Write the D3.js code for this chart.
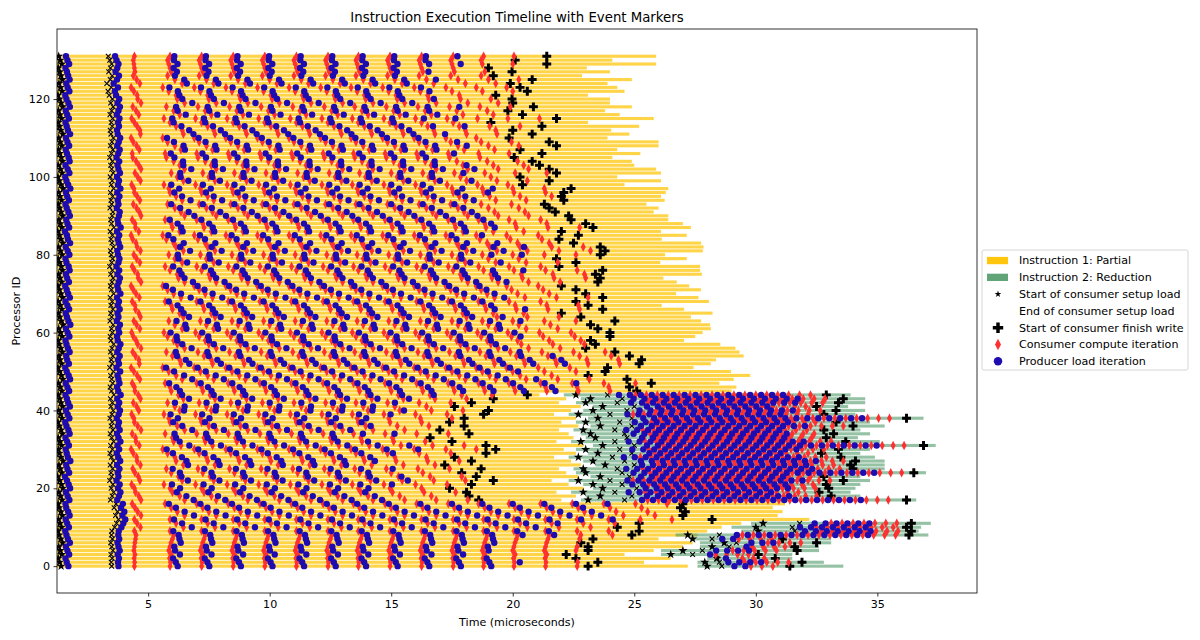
<!DOCTYPE html>
<html>
<head>
<meta charset="utf-8">
<script src="https://cdn.jsdelivr.net/npm/d3@7.9.0/dist/d3.min.js"></script>
<style>
  body { margin: 0; background: #fff; }
  svg { display: block; font-family: "DejaVu Sans", sans-serif; }
</style>
</head>
<body>
<svg id="chart" width="1200" height="640"></svg>
<script>
// ---- data (microseconds) ----
const processorIds = d3.range(132);
const xTicks = [5, 10, 15, 20, 25, 30, 35];
const yTicks = [0, 20, 40, 60, 80, 100, 120];

const inst1Begin = 1.25;

// Instruction 1 (Partial): end of the bar, per processor 0..131
const inst1End = [
  27.2, 25.4, 26.5, 24.6, 25.8, 27.0, 27.4, 26.0, 27.6, 28.0,
  28.6, 29.4, 32.2, 30.9, 31.1, 30.7, 31.2,
  22.0, 22.6, 21.8, 22.9, 22.3, 21.6, 22.7, 22.2, 21.9, 22.8,
  22.4, 21.7, 22.6, 22.1, 22.9, 21.8, 22.5, 22.3, 21.9, 22.7,
  22.0, 22.6, 21.7, 22.4, 22.8, 21.9, 22.2, 21.1,
  29.0, 29.2, 28.5,
  29.09, 29.77, 28.98, 27.44, 28.15, 28.36, 29.5, 29.33, 29.16, 28.54,
  27.05, 27.51, 27.81, 28.15, 28.12, 27.75, 27.33, 28.22, 27.05, 26.13,
  28.07, 27.64, 26.72, 27.74, 27.26, 26.75, 26.2, 27.78, 27.71, 27.71,
  26.07, 27.16, 26.27, 27.82, 27.85, 27.75, 26.13, 27.16, 26.1, 27.33,
  27.0,
  26.4, 26.4, 25.8, 26.0, 25.5, 26.25, 26.1, 26.3, 26.4, 24.6,
  26.1, 24.3, 26.1, 25.9, 25.0, 24.9, 24.1, 25.25, 24.3, 26.0,
  26.0, 23.9, 24.8, 24.05, 25.2, 23.1, 25.8, 24.4, 23.8, 24.9,
  24.0, 24.0, 23.1, 24.6, 24.3, 23.9, 24.9, 22.85, 24.0, 23.05,
  25.9, 24.1, 25.9
];

// start of consumer finish write (instruction 1)
const inst1Finish = [
  23.1, 23.5, 22.6, 22.2, 23.1, 23.1, 22.8, 23.3, 24.9, 25.2,
  24.3, 25.2, 28.2, 27.0, 27.1, 26.9, 27.0,
  18.6, 18.2, 18.1, 17.4, 18.3, 19.2, 18.5, 17.9, 18.7, 17.2,
  18.3, 17.6, 18.9, 19.3, 18.9, 17.5, 16.6, 18.2, 17.0, 18.0,
  17.4, 18.0, 18.8, 19.0, 17.6, 18.3, 19.2, 20.6,
  25.1, 24.8, 25.7,
  24.7, 23.1, 23.8, 23.9, 25.2, 25.3, 24.8, 24.2, 23.0, 23.4,
  23.2, 24.0, 24.0, 23.5, 23.2, 24.2, 22.8, 22.0, 23.7, 23.1,
  22.6, 23.7, 23.0, 22.6, 22.0, 23.5, 23.6, 23.4, 23.7, 21.9,
  22.6, 21.8, 23.6, 23.8, 23.6, 22.5, 21.9, 22.7, 22.0, 23.3,
  23.0,
  22.4, 22.3, 21.75, 21.5, 21.3, 22.1, 22.0, 22.1, 22.4, 20.4,
  21.5, 20.3, 21.8, 21.5, 21.1, 20.8, 20.06, 21.2, 20.3, 21.8,
  21.5, 19.85, 20.8, 20.0, 21.2, 19.1, 21.8, 20.4, 19.8, 20.85,
  20.0, 19.97, 19.3, 20.6, 20.3, 19.9, 20.8, 19.2, 19.97, 19.0,
  21.4, 20.1, 21.4
];

// start of consumer setup load (stars near the left edge)
const inst1SetupStart = [
  1.42, 1.35, 1.30, 1.45, 1.38, 1.32, 1.48, 1.40, 1.34, 1.29, 1.44, 1.37, 1.31, 1.47,
  1.41, 1.33, 1.30, 1.46, 1.39, 1.32, 1.49, 1.43, 1.36, 1.28, 1.45, 1.38, 1.33, 1.50,
  1.40, 1.35, 1.31, 1.44, 1.37, 1.30, 1.47, 1.42, 1.34, 1.29, 1.46, 1.39, 1.32, 1.48,
  1.41, 1.36, 1.30, 1.45, 1.38, 1.31, 1.49, 1.43, 1.35, 1.29, 1.44, 1.37, 1.33, 1.47,
  1.40, 1.34, 1.30, 1.46, 1.39, 1.32, 1.50, 1.42, 1.36, 1.31, 1.45, 1.38, 1.30, 1.48,
  1.41, 1.35, 1.29, 1.44, 1.37, 1.32, 1.47, 1.43, 1.34, 1.30, 1.46, 1.39, 1.31, 1.49,
  1.40, 1.36, 1.28, 1.45, 1.38, 1.33, 1.48, 1.42, 1.35, 1.30, 1.44, 1.37, 1.32, 1.50,
  1.41, 1.34, 1.29, 1.46, 1.39, 1.30, 1.47, 1.43, 1.36, 1.31, 1.45, 1.38, 1.32, 1.49,
  1.40, 1.35, 1.30, 1.44, 1.37, 1.31, 1.48, 1.42, 1.34, 1.29, 1.46, 1.39, 1.33, 1.47,
  1.41, 1.36, 1.30, 1.45, 1.38, 1.32
];

// end of consumer setup load (x marks near 3.5)
const inst1SetupEnd = [
  3.50, 3.48, 3.52, 3.47, 3.55, 3.50, 3.46, 3.53, 3.49, 3.51,
  3.62, 3.70, 3.78, 3.66, 3.74, 3.60, 3.68,
  3.45, 3.52, 3.58, 3.48, 3.55, 3.42, 3.50, 3.47, 3.54, 3.44, 3.57, 3.49, 3.43, 3.53,
  3.46, 3.58, 3.50, 3.44, 3.55, 3.48, 3.52, 3.43, 3.51, 3.56, 3.47, 3.53, 3.45, 3.59,
  3.49, 3.44, 3.54, 3.50, 3.46, 3.57, 3.42, 3.52, 3.48, 3.55, 3.45, 3.51, 3.58, 3.47,
  3.44, 3.53, 3.49, 3.56, 3.43, 3.50, 3.46, 3.55, 3.47, 3.52, 3.44, 3.58, 3.49, 3.45,
  3.51, 3.56, 3.46, 3.53, 3.42, 3.50, 3.54, 3.48, 3.45, 3.57, 3.51, 3.47, 3.53, 3.44,
  3.59, 3.49, 3.46, 3.52, 3.55, 3.43, 3.50, 3.47, 3.54, 3.45, 3.58, 3.48, 3.52, 3.44,
  3.56, 3.50, 3.46, 3.53, 3.42, 3.49, 3.55, 3.45, 3.51, 3.57, 3.47, 3.44, 3.52, 3.48,
  3.54, 3.43, 3.50, 3.56, 3.46, 3.53, 3.40, 3.35, 3.48, 3.30, 3.44, 3.52, 3.38, 3.45,
  3.50, 3.42, 3.36
];

// shift of each processor inside an iteration column (the zig-zag)
const iterLag = [
  0.30, 0.32, 0.28, 0.35, 0.25, 0.30, 0.34, 0.40, 0.45, 0.30,
  0.85, 0.55, 0.30, 0.90, 0.60, 0.35, 0.10,
  0.90, 0.70, 0.40, 0.30, 0.05,
  0.80, 0.65, 0.35, 0.15,
  0.85, 0.55, 0.50, 0.20, 0.00,
  0.75, 0.45, 0.40, 0.10,
  0.90, 0.60, 0.30, 0.25, 0.05,
  0.70, 0.50, 0.20,
  0.85, 0.65, 0.35, 0.30, 0.10,
  0.80, 0.55, 0.25, 0.00,
  0.75, 0.70, 0.40, 0.15,
  0.90, 0.60, 0.45, 0.20, 0.05,
  0.80, 0.50, 0.25,
  0.85, 0.70, 0.40, 0.35, 0.10,
  0.75, 0.45, 0.20, 0.00,
  0.90, 0.65, 0.60, 0.30, 0.10,
  0.80, 0.50, 0.25,
  0.85, 0.55, 0.45, 0.15, 0.00,
  0.70, 0.40, 0.35, 0.10,
  0.90, 0.75, 0.50, 0.20,
  0.80, 0.55, 0.30, 0.25, 0.05,
  0.85, 0.60, 0.35,
  0.90, 0.70, 0.45, 0.15, 0.10,
  0.75, 0.50, 0.20, 0.00,
  0.85, 0.80, 0.55, 0.30, 0.05,
  0.70, 0.45, 0.15,
  0.90, 0.60, 0.55, 0.25, 0.00,
  0.80, 0.50, 0.20,
  0.35, 0.30, 0.25, 0.20, 0.30
];

// left edge of each iteration column of instruction 1
const iterColumns = [5.6, 6.9, 8.2, 9.5, 10.8, 12.1, 13.35, 14.65, 15.95, 17.25,
  18.5, 19.75, 21.05, 22.35, 23.65, 24.95, 26.25];

// Instruction 2 (Reduction) only runs on some processors
const reduceProcs = [0, 1, 2, 3, 4, 5, 6, 7, 8, 9, 10, 11,
  17, 18, 19, 20, 21, 22, 23, 24, 25, 26, 27, 28, 29, 30,
  31, 32, 33, 34, 35, 36, 37, 38, 39, 40, 41, 42, 43, 44];
const reduceStart = [27.6, 27.6, 28.0, 26.1, 26.1, 27.7, 27.7, 27.3, 26.7, 29.4, 29.0, 29.8,
  22.8, 23.0, 22.4, 23.3, 22.9, 22.3, 23.2, 22.6, 22.5, 23.4,
  22.9, 22.3, 23.1, 22.6, 23.3, 22.4, 23.0, 22.8, 22.5, 23.2,
  22.6, 23.1, 22.3, 22.9, 23.3, 22.6, 22.8, 22.1];
const reduceEnd = [33.6, 32.8, 31.5, 31.5, 32.6, 32.6, 33.1, 33.1, 37.1, 36.7, 36.8, 37.2,
  36.6, 34.3, 33.9, 34.1, 34.3, 34.7, 34.3, 37.0, 35.3, 35.3,
  35.3, 34.9, 34.3, 34.7, 37.4, 35.1, 34.2, 34.7, 34.3, 35.3,
  34.7, 36.9, 34.1, 34.5, 33.8, 34.5, 34.5, 33.9];
const reduceSetupStart = [28.0, 27.9, 28.4, 26.5, 27.0, 28.2, 28.7, 27.4, 27.2, 30.1, 30.0, 30.3,
  23.1, 23.6, 22.9, 23.7, 23.3, 22.7, 23.6, 23.0, 22.9, 23.8,
  23.3, 22.7, 23.5, 23.0, 23.7, 22.8, 23.4, 23.2, 22.9, 23.6,
  23.0, 23.5, 22.7, 23.3, 23.7, 23.0, 23.2, 22.6];
const reduceSetupEnd = [28.6, 28.5, 28.4, 27.4, 27.8, 28.9, 29.2, 28.2, 28.5, 31.6, 31.5, 31.8,
  24.6, 24.9, 24.2, 25.1, 24.5, 24.0, 24.8, 24.5, 24.3, 25.0,
  24.6, 24.1, 24.9, 24.4, 25.0, 24.2, 24.7, 24.6, 24.2, 24.9,
  24.4, 24.9, 24.0, 24.7, 25.0, 24.3, 24.5, 23.9];
const reduceFinish = [31.4, 31.9, 30.8, 30.1, 31.7, 31.6, 32.5, 31.1, 36.3, 36.4, 36.2, 36.4,
  36.2, 33.1, 32.6, 33.0, 32.9, 33.6, 32.8, 36.5, 34.0, 33.9,
  34.1, 33.5, 32.7, 33.4, 36.9, 33.7, 32.9, 33.2, 32.8, 34.0,
  33.3, 36.2, 32.8, 33.3, 32.5, 33.4, 33.6, 32.9];
const reduceLag = [0.10, 0.30, 0.20, 0.00, 0.25, 0.15, 0.35, 0.05, 0.20, 0.30, 0.10, 0.25,
  0.35, 0.10, 0.25, 0.05, 0.40, 0.20, 0.30, 0.00, 0.15, 0.35,
  0.30, 0.05, 0.20, 0.40, 0.10, 0.25, 0.35, 0.00, 0.15, 0.30,
  0.05, 0.40, 0.20, 0.25, 0.10, 0.35, 0.00, 0.30];
const reduceColumns = [23.4, 23.85, 24.3, 24.75, 25.2, 25.65, 26.1, 26.55, 27.0, 27.45,
  27.9, 28.35, 28.8, 29.25, 29.7, 30.15, 30.6, 31.05, 31.5, 31.95,
  32.4, 32.85, 33.3, 33.75, 34.2, 34.65, 35.1, 35.55, 36.0];

const legendItems = [
  { label: 'Instruction 1: Partial', kind: 'bar1' },
  { label: 'Instruction 2: Reduction', kind: 'bar2' },
  { label: 'Start of consumer setup load', kind: 'star' },
  { label: 'End of consumer setup load', kind: 'none' },
  { label: 'Start of consumer finish write', kind: 'plus' },
  { label: 'Consumer compute iteration', kind: 'diamond' },
  { label: 'Producer load iteration', kind: 'circle' }
];

// ---- colours ----
const yellow = '#ffc300';
const green = '#4f9a68';
const red = '#ff3030';
const blue = '#1f0cb0';

// ---- layout ----
const plotLeft = 57, plotRight = 977, plotTop = 29, plotBottom = 593;
const svg = d3.select('#chart');

const x = d3.scaleLinear().domain([1.25, 39.1]).range([plotLeft, plotRight]);
const y = d3.scaleLinear().domain([-6.9, 138.0]).range([plotBottom, plotTop]);
const barH = y(0) - y(0.8);

svg.append('defs').append('clipPath').attr('id', 'plot-clip')
  .append('rect')
  .attr('x', plotLeft).attr('y', plotTop)
  .attr('width', plotRight - plotLeft).attr('height', plotBottom - plotTop);

const plot = svg.append('g').attr('clip-path', 'url(#plot-clip)');

// ---- bars ----
plot.append('g').selectAll('rect')
  .data(processorIds)
  .join('rect')
  .attr('x', x(inst1Begin))
  .attr('y', (p) => y(p) - barH / 2)
  .attr('width', (p) => x(inst1End[p]) - x(inst1Begin))
  .attr('height', barH)
  .attr('fill', yellow)
  .attr('fill-opacity', 0.72);

plot.append('g').selectAll('rect')
  .data(reduceProcs)
  .join('rect')
  .attr('x', (p, i) => x(reduceStart[i]))
  .attr('y', (p) => y(p) - barH / 2)
  .attr('width', (p, i) => x(reduceEnd[i]) - x(reduceStart[i]))
  .attr('height', barH)
  .attr('fill', green)
  .attr('fill-opacity', 0.6);

// ---- events ----
const stars = [], setupEnds = [], writes = [], computes = [], loads = [];

processorIds.forEach((p) => {
  const lag = iterLag[p];
  // gap between a compute and its load, taken from the star offset of the row
  const gap = 0.12 + (inst1SetupStart[p] - 1.28) * 1.4;
  stars.push({ t: inst1SetupStart[p], p });
  loads.push({ t: inst1SetupStart[p] + 0.3, p });
  setupEnds.push({ t: inst1SetupEnd[p], p });
  loads.push({ t: inst1SetupEnd[p] + 0.28, p });
  computes.push({ t: 4.3 + 0.45 * lag, p });
  iterColumns.forEach((c) => {
    const t = c + lag;
    if (t < inst1Finish[p] - 0.35) computes.push({ t, p });
    if (t + gap < inst1Finish[p] - 3.0) loads.push({ t: t + gap, p });
  });
  writes.push({ t: inst1Finish[p], p });
});

reduceProcs.forEach((p, i) => {
  const lag = reduceLag[i];
  stars.push({ t: reduceSetupStart[i], p });
  setupEnds.push({ t: reduceSetupEnd[i], p });
  reduceColumns.forEach((c) => {
    const t = c + lag;
    if (t > reduceSetupEnd[i] + 0.9 && t < reduceFinish[i] - 0.4) computes.push({ t, p });
    if (t + 0.22 > reduceSetupEnd[i] + 0.3 && t + 0.22 < reduceFinish[i] - 1.6) loads.push({ t: t + 0.22, p });
  });
  writes.push({ t: reduceFinish[i], p });
});

const starPath = d3.symbol(d3.symbolStar, 26)();
const plusPath = d3.symbol(d3.symbolCross, 44)();
const circlePath = d3.symbol(d3.symbolCircle, 32)();
const thinDiamond = (w, h) => `M0,${-h / 2}L${w / 2},0L0,${h / 2}L${-w / 2},0Z`;
const xMark = (s) => `M${-s},${-s}L${s},${s}M${-s},${s}L${s},${-s}`;

function drawMarks(data, d, fill, stroke) {
  plot.append('g').selectAll('path')
    .data(data)
    .join('path')
    .attr('d', d)
    .attr('transform', (e) => `translate(${x(e.t)},${y(e.p)})`)
    .attr('fill', fill)
    .attr('stroke', stroke || 'none')
    .attr('stroke-width', stroke ? 1.1 : 0);
}

drawMarks(stars, starPath, '#000');
drawMarks(setupEnds, xMark(2.4), 'none', '#000');
drawMarks(writes, plusPath, '#000');
drawMarks(computes, thinDiamond(5, 9.5), red);
drawMarks(loads, circlePath, blue);

// ---- frame and axes ----
svg.append('rect')
  .attr('x', plotLeft).attr('y', plotTop)
  .attr('width', plotRight - plotLeft).attr('height', plotBottom - plotTop)
  .attr('fill', 'none').attr('stroke', '#000').attr('stroke-width', 0.8);

const xAxis = svg.append('g')
  .attr('transform', `translate(0,${plotBottom})`)
  .call(d3.axisBottom(x).tickValues(xTicks).tickSize(3.5).tickPadding(3.5).tickFormat(d3.format('d')));
const yAxis = svg.append('g')
  .attr('transform', `translate(${plotLeft},0)`)
  .call(d3.axisLeft(y).tickValues(yTicks).tickSize(3.5).tickPadding(3.5).tickFormat(d3.format('d')));

[xAxis, yAxis].forEach((g) => {
  g.select('.domain').remove();
  g.selectAll('line').attr('stroke', '#000').attr('stroke-width', 0.8);
  g.selectAll('text').attr('fill', '#000').style('font-size', '11.1px')
    .style('font-family', '"DejaVu Sans", sans-serif');
});

svg.append('text')
  .attr('x', (plotLeft + plotRight) / 2).attr('y', 22)
  .attr('text-anchor', 'middle')
  .style('font-size', '13.3px')
  .text('Instruction Execution Timeline with Event Markers');

svg.append('text')
  .attr('x', (plotLeft + plotRight) / 2).attr('y', 626)
  .attr('text-anchor', 'middle')
  .style('font-size', '11.1px')
  .text('Time (microseconds)');

svg.append('text')
  .attr('transform', `translate(20,${(plotTop + plotBottom) / 2}) rotate(-90)`)
  .attr('text-anchor', 'middle')
  .style('font-size', '11.1px')
  .text('Processor ID');

// ---- legend ----
const legend = svg.append('g').attr('transform', 'translate(982,250)');
legend.append('rect')
  .attr('width', 206).attr('height', 120).attr('rx', 2)
  .attr('fill', '#fff').attr('stroke', '#cccccc').attr('stroke-width', 0.8);

legendItems.forEach((item, i) => {
  const cy = 10.5 + i * 16.8;
  const g = legend.append('g').attr('transform', `translate(0,${cy})`);
  if (item.kind === 'bar1' || item.kind === 'bar2') {
    g.append('rect')
      .attr('x', 5).attr('y', -3.6).attr('width', 21).attr('height', 7.3)
      .attr('fill', item.kind === 'bar1' ? yellow : green)
      .attr('fill-opacity', item.kind === 'bar1' ? 0.95 : 0.9);
  } else if (item.kind === 'star') {
    g.append('path').attr('d', d3.symbol(d3.symbolStar, 14)()).attr('transform', 'translate(16,0)').attr('fill', '#000');
  } else if (item.kind === 'plus') {
    g.append('path').attr('d', d3.symbol(d3.symbolCross, 60)()).attr('transform', 'translate(16,0)').attr('fill', '#000');
  } else if (item.kind === 'diamond') {
    g.append('path').attr('d', thinDiamond(6, 11.5)).attr('transform', 'translate(16,0)').attr('fill', red);
  } else if (item.kind === 'circle') {
    g.append('path').attr('d', d3.symbol(d3.symbolCircle, 56)()).attr('transform', 'translate(16,0)').attr('fill', blue);
  }
  g.append('text')
    .attr('x', 37).attr('y', 0).attr('dy', '0.35em')
    .style('font-size', '11.1px')
    .text(item.label);
});
</script>
</body>
</html>
